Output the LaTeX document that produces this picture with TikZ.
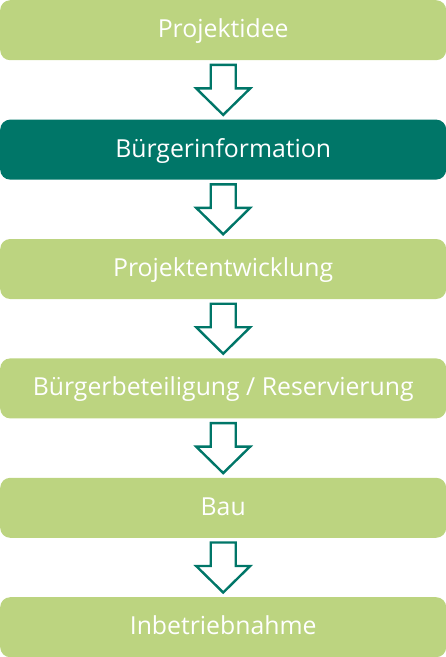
\documentclass[tikz,border=0pt]{standalone}
\usepackage{fontspec}
\setmainfont{Open Sans}
\definecolor{boxgreen}{RGB}{188,212,128}
\definecolor{teal}{RGB}{0,118,104}
\begin{document}
\begin{tikzpicture}[x=1pt,y=-1pt,
  stagebox/.style={rounded corners=10pt, minimum width=446pt, minimum height=60pt, inner sep=0pt, text height=17.6pt, text depth=2.6pt, text=white, font=\fontsize{24.8}{28}\selectfont, anchor=north west},
  greenbox/.style={stagebox, fill=boxgreen},
  tealbox/.style={stagebox, fill=teal},
  blockarrow/.style={draw=teal, line width=2.4pt, fill=white, line join=miter}]
\useasboundingbox (0,0) rectangle (446,657);
\node[greenbox] (b1) at (0,0) {Projektidee};
\node[tealbox] (b2) at (0,119.4) {Bürgerinformation};
\node[greenbox] (b3) at (0,238.8) {Projektentwicklung};
\node[greenbox] (b4) at (0,358.2) {Bürgerbeteiligung / Reservierung};
\node[greenbox] (b5) at (0,477.6) {Bau};
\node[greenbox] (b6) at (0,597) {Inbetriebnahme};
\foreach \a/\b in {b1/b2,b2/b3,b3/b4,b4/b5,b5/b6}{
  \draw[blockarrow] ([xshift=-12.5pt,yshift=-4.5pt]\a.south) -- ([xshift=12.5pt,yshift=-4.5pt]\a.south)
    -- ([xshift=12.5pt,yshift=-28pt]\a.south) -- ([xshift=27pt,yshift=-28pt]\a.south)
    -- ([yshift=4.5pt]\b.north) -- ([xshift=-27pt,yshift=-28pt]\a.south)
    -- ([xshift=-12.5pt,yshift=-28pt]\a.south) -- cycle;
}
\end{tikzpicture}
\end{document}
